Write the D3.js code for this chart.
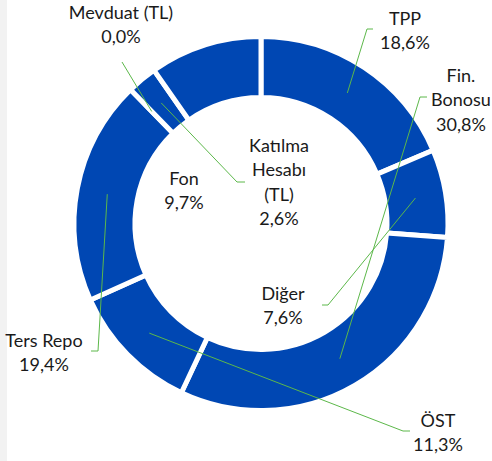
<!DOCTYPE html>
<html>
<head>
<meta charset="utf-8">
<script src="https://cdn.jsdelivr.net/npm/d3@7"></script>
<style>
  body { margin: 0; background: #fff; }
  svg { display: block; }
</style>
</head>
<body>
<div id="chart"></div>
<script>
// Slice names and shares (%), clockwise from 12 o'clock
const names  = ["TPP", "Diğer", "Fin. Bonosu", "ÖST", "Ters Repo", "Mevduat (TL)", "Katılma Hesabı (TL)", "Fon"]
const values = [18.6, 7.6, 30.8, 11.3, 19.4, 0.0, 2.6, 9.7]
// Label text lines per slice
const labelLines = [
    ["TPP", "18,6%"],
    ["Diğer", "7,6%"],
    ["Fin.", "Bonosu", "30,8%"],
    ["ÖST", "11,3%"],
    ["Ters Repo", "19,4%"],
    ["Mevduat (TL)", "0,0%"],
    ["Katılma", "Hesabı", "(TL)", "2,6%"],
    ["Fon", "9,7%"]
]

const width = 492, height = 461
const cx = 261, cy = 223.5
const outerR = 187, innerR = 126
const lineH = 24.3
const blue = "#0047b3", green = "#5cb84a"

// label placement: text centre x, first baseline y, leader elbow (ex, ey) and label-side end x
const labelLayout = {
    "TPP":                 { x: 405, y: 25,  elbow: [367, 29],  end: 373 },
    "Diğer":               { x: 283, y: 300, elbow: [328, 305], end: 322 },
    "Fin. Bonosu":         { x: 461, y: 82,  elbow: [420, 97],  end: 427 },
    "ÖST":                 { x: 438, y: 427, elbow: [403, 431], end: 410 },
    "Ters Repo":           { x: 44,  y: 347, elbow: [98, 351],  end: 91 },
    "Mevduat (TL)":        { x: 121, y: 19,  elbow: [122, 62],  end: 122 },
    "Katılma Hesabı (TL)": { x: 279, y: 152, elbow: [237, 182], end: 245 },
    "Fon":                 { x: 184, y: 185, elbow: null,       end: null }
}

const svg = d3.select("#chart").append("svg")
    .attr("width", width)
    .attr("height", height)

// light grey strip on the left edge
svg.append("rect")
    .attr("x", 0).attr("y", 0)
    .attr("width", 7).attr("height", height)
    .style("fill", "#f2f2f2")

const data = names.map((n, i) => ({ name: n, value: values[i], lines: labelLines[i] }))

const pie = d3.pie()
    .value(d => d.value)
    .sort(null)

const arc = d3.arc()
    .innerRadius(innerR)
    .outerRadius(outerR)

const midArc = d3.arc()
    .innerRadius((innerR + outerR) / 2)
    .outerRadius((innerR + outerR) / 2)

const arcs = pie(data)

const g = svg.append("g")
    .attr("transform", `translate(${cx},${cy})`)

g.selectAll("path.slice")
    .data(arcs.filter(d => d.data.value > 0))
    .join("path")
    .attr("class", "slice")
    .attr("d", arc)
    .style("fill", blue)
    .style("stroke", "#fff")
    .style("stroke-width", 5)

// leader lines
arcs.forEach(a => {
    const lay = labelLayout[a.data.name]
    if (!lay.elbow) return
    const c = midArc.centroid(a)
    const pts = [[c[0] + cx, c[1] + cy], lay.elbow, [lay.end, lay.elbow[1]]]
    svg.append("path")
        .attr("d", d3.line()(pts))
        .style("fill", "none")
        .style("stroke", green)
        .style("stroke-width", 1)
})

// labels
arcs.forEach(a => {
    const lay = labelLayout[a.data.name]
    const t = svg.append("text")
        .attr("text-anchor", "middle")
        .style("font-family", "Lato, 'Open Sans', sans-serif")
        .style("font-size", "18px")
        .style("fill", "#1a1a1a")
    a.data.lines.forEach((ln, i) => {
        t.append("tspan")
            .attr("x", lay.x)
            .attr("y", lay.y + i * lineH)
            .text(ln)
    })
})
</script>
</body>
</html>
